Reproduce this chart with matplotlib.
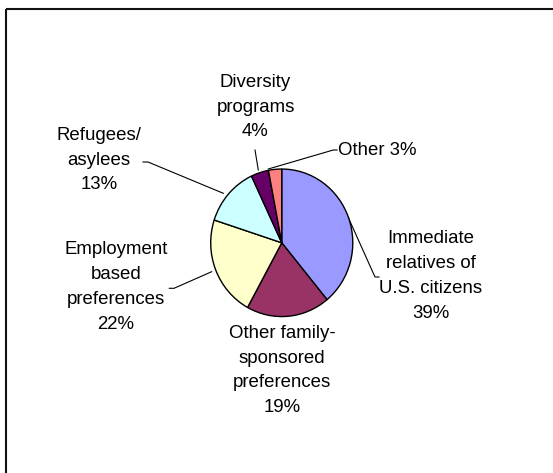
import matplotlib.pyplot as plt
from matplotlib.patches import Rectangle

categories = ["Immediate\nrelatives of\nU.S. citizens", "Other family-\nsponsored\npreferences",
              "Employment\nbased\npreferences", "Refugees/\nasylees", "Diversity\nprograms", "Other"]
shares = [39, 19, 22, 13, 4, 3]
colors = ["#9999FF", "#993366", "#FFFFCC", "#CCFFFF", "#660066", "#FF8080"]

W, H = 553, 473
fig = plt.figure(figsize=(W / 100, H / 100), dpi=100)

# background axes in pixel coordinates (y down)
bg = fig.add_axes([0, 0, 1, 1])
bg.set_xlim(0, W)
bg.set_ylim(H, 0)
bg.axis("off")
bg.add_patch(Rectangle((6, 9), W + 10, H + 10, fill=False, edgecolor="#111111", lw=1.5))

# pie axes placed over the pie's pixel box
px0, px1, py0, py1 = 210, 353.5, 168.3, 317.3
pie_ax = fig.add_axes([px0 / W, 1 - py1 / H, (px1 - px0) / W, (py1 - py0) / H])
pie_ax.pie(shares, colors=colors, startangle=90, counterclock=False,
           wedgeprops=dict(edgecolor="black", linewidth=1.0))
pie_ax.set_aspect("auto")
pie_ax.set_xlim(-1.01, 1.01)
pie_ax.set_ylim(-1.01, 1.01)
pie_ax.axis("off")

font = dict(family=["Liberation Sans", "DejaVu Sans"], fontsize=13.4, linespacing=1.6,
            ha="center", va="center", color="black")

labels = [f"{c}\n{s}%" for c, s in zip(categories, shares)]
labels[5] = f"{categories[5]} {shares[5]}%"

bg.text(431, 276, labels[0], **font)
bg.text(282, 370.5, labels[1], **font)
bg.text(115.7, 287, labels[2], **font)
bg.text(98.8, 160, labels[3], **font)
bg.text(255.5, 107, labels[4], **font)
bg.text(338.5, 150, labels[5], **{**font, "ha": "left"})

# leader lines
lk = dict(color="black", lw=0.8)
bg.plot([379, 375, 348.5], [277, 277, 218], **lk)
bg.plot([169.3, 174, 211.7], [288.3, 288.3, 271.7], **lk)
bg.plot([143, 148, 223.3], [162, 162, 193.3], **lk)
bg.plot([255, 258.3], [150, 170], **lk)
bg.plot([337, 333.3, 268.3], [150, 150, 169], **lk)

fig.savefig("out.png", dpi=100)
